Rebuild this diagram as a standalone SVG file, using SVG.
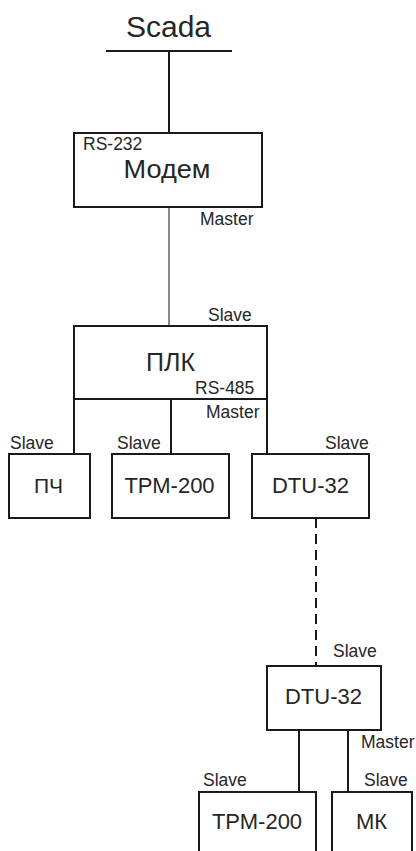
<svg xmlns="http://www.w3.org/2000/svg" width="416" height="851" viewBox="0 0 416 851">
<style>
.box{fill:#fff;stroke:#1a1a1a;stroke-width:2}
.ln{stroke:#1a1a1a;stroke-width:2;fill:none}
.t{font-family:"Liberation Sans",Arial,sans-serif;fill:#262626}
.s{font-size:17.5px}
.m{font-size:22px;text-anchor:middle}
</style>
<rect width="416" height="851" fill="#fff"/>
<g id="connectors">
<line class="ln" x1="106" y1="51" x2="232" y2="51"/>
<line class="ln" x1="169" y1="51" x2="169" y2="133"/>
<line x1="169" y1="207" x2="169" y2="326" stroke="#8a8a8a" stroke-width="2"/>
<line class="ln" x1="74" y1="399" x2="267" y2="399"/>
<line class="ln" x1="74" y1="399" x2="74" y2="454"/>
<line class="ln" x1="171" y1="399" x2="171" y2="454"/>
<line class="ln" x1="267" y1="399" x2="267" y2="454"/>
<line class="ln" x1="316" y1="518" x2="316" y2="666" stroke-dasharray="10,6"/>
<line class="ln" x1="299" y1="730" x2="299" y2="792"/>
<line class="ln" x1="348" y1="730" x2="348" y2="792"/>
</g>
<g id="scada"><text class="t" x="168.5" y="37" font-size="30" text-anchor="middle">Scada</text></g>
<g id="modem">
<rect class="box" x="74" y="133" width="188" height="74"/>
<text class="t s" x="83" y="150">RS-232</text>
<text class="t m" x="167" y="178" style="font-size:25px" textLength="87" lengthAdjust="spacingAndGlyphs">Модем</text>
<text class="t s" x="200" y="225">Master</text>
</g>
<g id="plc">
<text class="t s" x="208" y="321">Slave</text>
<rect class="box" x="74" y="326" width="193" height="73"/>
<text class="t m" x="170.5" y="371" style="font-size:25px">ПЛК</text>
<text class="t s" x="195" y="394">RS-485</text>
<text class="t s" x="206" y="418">Master</text>
</g>
<g id="pch">
<text class="t s" x="10" y="449">Slave</text>
<rect class="box" x="9" y="454" width="81" height="64"/>
<text class="t m" x="48.5" y="493" style="font-size:21px">ПЧ</text>
</g>
<g id="trm1">
<text class="t s" x="117" y="449">Slave</text>
<rect class="box" x="112" y="454" width="117" height="64"/>
<text class="t m" x="169.5" y="493">ТРМ-200</text>
</g>
<g id="dtu1">
<text class="t s" x="325" y="449">Slave</text>
<rect class="box" x="252" y="454" width="117" height="64"/>
<text class="t m" x="310.5" y="493">DTU-32</text>
</g>
<g id="dtu2">
<text class="t s" x="333" y="657">Slave</text>
<rect class="box" x="267" y="666" width="114" height="64"/>
<text class="t m" x="323.5" y="704">DTU-32</text>
<text class="t s" x="361" y="748">Master</text>
</g>
<g id="trm2">
<text class="t s" x="203" y="786">Slave</text>
<rect class="box" x="199" y="792" width="117" height="70"/>
<text class="t m" x="257" y="829">ТРМ-200</text>
</g>
<g id="mk">
<text class="t s" x="364" y="786">Slave</text>
<rect class="box" x="332" y="792" width="80" height="70"/>
<text class="t m" x="371.5" y="829">МК</text>
</g>
</svg>
